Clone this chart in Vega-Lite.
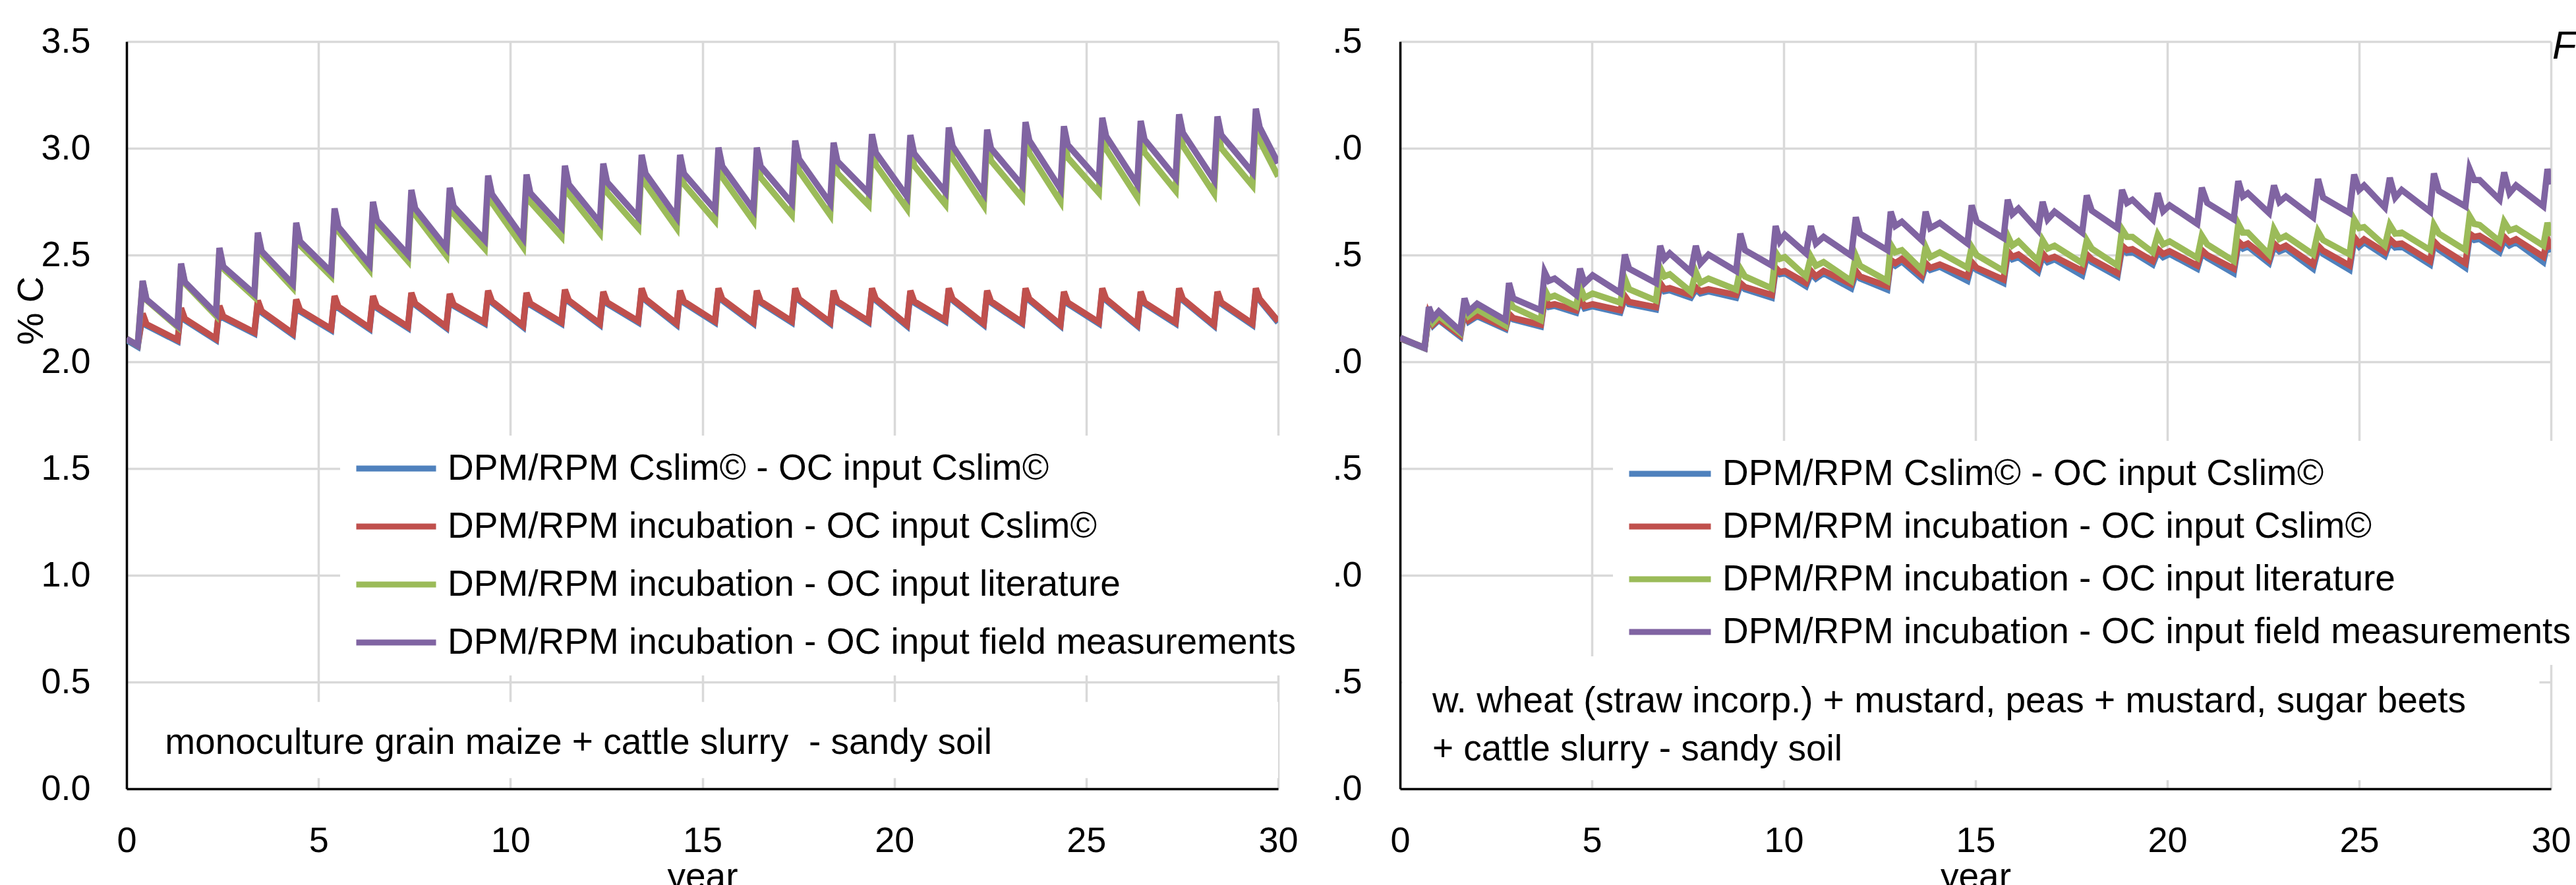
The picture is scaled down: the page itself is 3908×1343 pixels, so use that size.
{
  "$schema": "https://vega.github.io/schema/vega-lite/v6.json",
  "background": "white",
  "padding": {"left": 20, "top": 36, "right": 0, "bottom": 0},
  "spacing": 185,
  "bounds": "flush",
  "resolve": {"scale": {"color": "independent"}, "legend": {"color": "independent"}},
  "config": {
    "font": "Liberation Sans",
    "view": {"stroke": null},
    "axis": {"labelFontSize": 54, "labelColor": "#000", "labelFont": "Liberation Sans", "ticks": false, "domainColor": "#000", "domainWidth": 3.5, "gridColor": "#d9d9d9", "gridWidth": 3.5, "titleFontSize": 55, "titleFontWeight": "normal", "titleColor": "#000", "titleFont": "Liberation Sans", "labelFlush": false},
    "legend": {"labelFontSize": 55, "labelFont": "Liberation Sans", "labelColor": "#000", "labelLimit": 3000, "symbolType": "stroke", "symbolStrokeWidth": 9, "fillColor": "white", "padding": 20, "labelOffset": 13, "clipHeight": 60}
  },
  "datasets": {
    "L": [
      {"x":0,"a":2.102,"b":2.108,"c":2.108,"d":2.108},
      {"x":0.29,"a":2.071,"b":2.077,"c":2.077,"d":2.077},
      {"x":0.42,"a":2.22,"b":2.226,"c":2.376,"d":2.379},
      {"x":0.52,"a":2.17,"b":2.176,"c":2.289,"d":2.292},
      {"x":1.33,"a":2.096,"b":2.102,"c":2.163,"d":2.169},
      {"x":1.42,"a":2.245,"b":2.251,"c":2.454,"d":2.46},
      {"x":1.52,"a":2.195,"b":2.201,"c":2.367,"d":2.373},
      {"x":2.33,"a":2.102,"b":2.108,"c":2.216,"d":2.226},
      {"x":2.42,"a":2.256,"b":2.262,"c":2.523,"d":2.533},
      {"x":2.52,"a":2.206,"b":2.212,"c":2.436,"d":2.446},
      {"x":3.33,"a":2.132,"b":2.138,"c":2.303,"d":2.318},
      {"x":3.42,"a":2.281,"b":2.287,"c":2.59,"d":2.605},
      {"x":3.52,"a":2.231,"b":2.237,"c":2.503,"d":2.518},
      {"x":4.33,"a":2.127,"b":2.133,"c":2.346,"d":2.364},
      {"x":4.42,"a":2.286,"b":2.292,"c":2.633,"d":2.651},
      {"x":4.52,"a":2.236,"b":2.242,"c":2.546,"d":2.564},
      {"x":5.33,"a":2.148,"b":2.154,"c":2.4,"d":2.42},
      {"x":5.42,"a":2.302,"b":2.308,"c":2.698,"d":2.718},
      {"x":5.52,"a":2.252,"b":2.258,"c":2.611,"d":2.631},
      {"x":6.33,"a":2.153,"b":2.159,"c":2.431,"d":2.456},
      {"x":6.42,"a":2.302,"b":2.308,"c":2.724,"d":2.749},
      {"x":6.52,"a":2.252,"b":2.258,"c":2.637,"d":2.662},
      {"x":7.33,"a":2.158,"b":2.164,"c":2.472,"d":2.502},
      {"x":7.42,"a":2.317,"b":2.323,"c":2.775,"d":2.805},
      {"x":7.52,"a":2.267,"b":2.273,"c":2.688,"d":2.718},
      {"x":8.33,"a":2.158,"b":2.164,"c":2.498,"d":2.533},
      {"x":8.42,"a":2.312,"b":2.318,"c":2.78,"d":2.815},
      {"x":8.52,"a":2.262,"b":2.268,"c":2.693,"d":2.728},
      {"x":9.33,"a":2.179,"b":2.185,"c":2.53,"d":2.57},
      {"x":9.42,"a":2.327,"b":2.333,"c":2.832,"d":2.872},
      {"x":9.52,"a":2.277,"b":2.283,"c":2.745,"d":2.785},
      {"x":10.33,"a":2.163,"b":2.169,"c":2.538,"d":2.58},
      {"x":10.42,"a":2.317,"b":2.323,"c":2.835,"d":2.877},
      {"x":10.52,"a":2.267,"b":2.273,"c":2.748,"d":2.79},
      {"x":11.33,"a":2.179,"b":2.185,"c":2.586,"d":2.631},
      {"x":11.42,"a":2.332,"b":2.338,"c":2.873,"d":2.918},
      {"x":11.52,"a":2.282,"b":2.288,"c":2.786,"d":2.831},
      {"x":12.33,"a":2.173,"b":2.179,"c":2.603,"d":2.651},
      {"x":12.42,"a":2.322,"b":2.328,"c":2.88,"d":2.928},
      {"x":12.52,"a":2.272,"b":2.278,"c":2.793,"d":2.841},
      {"x":13.33,"a":2.184,"b":2.19,"c":2.627,"d":2.677},
      {"x":13.42,"a":2.338,"b":2.344,"c":2.919,"d":2.969},
      {"x":13.52,"a":2.288,"b":2.294,"c":2.832,"d":2.882},
      {"x":14.33,"a":2.173,"b":2.179,"c":2.627,"d":2.677},
      {"x":14.42,"a":2.327,"b":2.333,"c":2.919,"d":2.969},
      {"x":14.52,"a":2.277,"b":2.283,"c":2.832,"d":2.882},
      {"x":15.33,"a":2.184,"b":2.19,"c":2.661,"d":2.713},
      {"x":15.42,"a":2.338,"b":2.344,"c":2.951,"d":3.003},
      {"x":15.52,"a":2.288,"b":2.294,"c":2.864,"d":2.916},
      {"x":16.33,"a":2.179,"b":2.185,"c":2.66,"d":2.713},
      {"x":16.42,"a":2.327,"b":2.333,"c":2.95,"d":3.003},
      {"x":16.52,"a":2.277,"b":2.283,"c":2.863,"d":2.916},
      {"x":17.33,"a":2.184,"b":2.19,"c":2.688,"d":2.743},
      {"x":17.42,"a":2.338,"b":2.344,"c":2.981,"d":3.036},
      {"x":17.52,"a":2.288,"b":2.294,"c":2.894,"d":2.949},
      {"x":18.33,"a":2.179,"b":2.185,"c":2.687,"d":2.743},
      {"x":18.42,"a":2.327,"b":2.333,"c":2.97,"d":3.026},
      {"x":18.52,"a":2.277,"b":2.283,"c":2.883,"d":2.939},
      {"x":19.33,"a":2.184,"b":2.19,"c":2.733,"d":2.79},
      {"x":19.42,"a":2.338,"b":2.344,"c":3.009,"d":3.066},
      {"x":19.52,"a":2.288,"b":2.294,"c":2.922,"d":2.979},
      {"x":20.33,"a":2.168,"b":2.174,"c":2.718,"d":2.775},
      {"x":20.42,"a":2.327,"b":2.333,"c":3.005,"d":3.062},
      {"x":20.52,"a":2.277,"b":2.283,"c":2.918,"d":2.975},
      {"x":21.33,"a":2.189,"b":2.195,"c":2.737,"d":2.795},
      {"x":21.42,"a":2.338,"b":2.344,"c":3.039,"d":3.097},
      {"x":21.52,"a":2.288,"b":2.294,"c":2.952,"d":3.01},
      {"x":22.33,"a":2.173,"b":2.179,"c":2.732,"d":2.79},
      {"x":22.42,"a":2.327,"b":2.333,"c":3.029,"d":3.087},
      {"x":22.52,"a":2.277,"b":2.283,"c":2.942,"d":3.0},
      {"x":23.33,"a":2.179,"b":2.185,"c":2.767,"d":2.826},
      {"x":23.42,"a":2.338,"b":2.344,"c":3.064,"d":3.123},
      {"x":23.52,"a":2.288,"b":2.294,"c":2.977,"d":3.036},
      {"x":24.33,"a":2.168,"b":2.174,"c":2.75,"d":2.81},
      {"x":24.42,"a":2.322,"b":2.328,"c":3.043,"d":3.103},
      {"x":24.52,"a":2.272,"b":2.278,"c":2.956,"d":3.016},
      {"x":25.33,"a":2.179,"b":2.185,"c":2.791,"d":2.851},
      {"x":25.42,"a":2.338,"b":2.344,"c":3.083,"d":3.143},
      {"x":25.52,"a":2.288,"b":2.294,"c":2.996,"d":3.056},
      {"x":26.33,"a":2.168,"b":2.174,"c":2.771,"d":2.831},
      {"x":26.42,"a":2.322,"b":2.328,"c":3.068,"d":3.128},
      {"x":26.52,"a":2.272,"b":2.278,"c":2.981,"d":3.041},
      {"x":27.33,"a":2.179,"b":2.185,"c":2.801,"d":2.862},
      {"x":27.42,"a":2.338,"b":2.344,"c":3.098,"d":3.159},
      {"x":27.52,"a":2.288,"b":2.294,"c":3.011,"d":3.072},
      {"x":28.33,"a":2.168,"b":2.174,"c":2.789,"d":2.851},
      {"x":28.42,"a":2.322,"b":2.328,"c":3.087,"d":3.149},
      {"x":28.52,"a":2.272,"b":2.278,"c":3.0,"d":3.062},
      {"x":29.33,"a":2.173,"b":2.179,"c":2.825,"d":2.887},
      {"x":29.42,"a":2.338,"b":2.344,"c":3.123,"d":3.185},
      {"x":29.52,"a":2.288,"b":2.294,"c":3.036,"d":3.098},
      {"x":30,"a":2.184,"b":2.19,"c":2.868,"d":2.93}
    ],
    "R": [
      {"x":0,"a":2.109,"b":2.111,"c":2.113,"d":2.113},
      {"x":0.35,"a":2.084,"b":2.086,"c":2.087,"d":2.087},
      {"x":0.64,"a":2.063,"b":2.065,"c":2.066,"d":2.066},
      {"x":0.75,"a":2.215,"b":2.22,"c":2.235,"d":2.256},
      {"x":0.86,"a":2.17,"b":2.175,"c":2.185,"d":2.205},
      {"x":1.01,"a":2.195,"b":2.2,"c":2.215,"d":2.236},
      {"x":1.57,"a":2.118,"b":2.125,"c":2.135,"d":2.144},
      {"x":1.68,"a":2.24,"b":2.245,"c":2.27,"d":2.297},
      {"x":1.79,"a":2.188,"b":2.195,"c":2.215,"d":2.236},
      {"x":2.01,"a":2.213,"b":2.22,"c":2.245,"d":2.272},
      {"x":2.75,"a":2.153,"b":2.16,"c":2.17,"d":2.195},
      {"x":2.84,"a":2.218,"b":2.225,"c":2.29,"d":2.369},
      {"x":2.95,"a":2.198,"b":2.205,"c":2.255,"d":2.297},
      {"x":3.67,"a":2.165,"b":2.174,"c":2.195,"d":2.241},
      {"x":3.77,"a":2.29,"b":2.297,"c":2.338,"d":2.42},
      {"x":3.88,"a":2.257,"b":2.265,"c":2.3,"d":2.379},
      {"x":4.03,"a":2.262,"b":2.27,"c":2.31,"d":2.39},
      {"x":4.59,"a":2.23,"b":2.241,"c":2.26,"d":2.313},
      {"x":4.69,"a":2.29,"b":2.297,"c":2.354,"d":2.436},
      {"x":4.81,"a":2.25,"b":2.26,"c":2.3,"d":2.369},
      {"x":5.02,"a":2.26,"b":2.27,"c":2.32,"d":2.405},
      {"x":5.74,"a":2.23,"b":2.241,"c":2.277,"d":2.323},
      {"x":5.86,"a":2.3,"b":2.308,"c":2.39,"d":2.502},
      {"x":5.97,"a":2.27,"b":2.28,"c":2.34,"d":2.436},
      {"x":6.67,"a":2.245,"b":2.256,"c":2.287,"d":2.369},
      {"x":6.78,"a":2.36,"b":2.369,"c":2.441,"d":2.543},
      {"x":6.89,"a":2.33,"b":2.34,"c":2.4,"d":2.482},
      {"x":7.03,"a":2.335,"b":2.345,"c":2.41,"d":2.508},
      {"x":7.58,"a":2.3,"b":2.313,"c":2.328,"d":2.421},
      {"x":7.71,"a":2.34,"b":2.349,"c":2.421,"d":2.543},
      {"x":7.83,"a":2.32,"b":2.33,"c":2.37,"d":2.461},
      {"x":8.04,"a":2.33,"b":2.34,"c":2.39,"d":2.502},
      {"x":8.76,"a":2.3,"b":2.313,"c":2.338,"d":2.425},
      {"x":8.87,"a":2.36,"b":2.369,"c":2.436,"d":2.6},
      {"x":8.99,"a":2.34,"b":2.35,"c":2.4,"d":2.523},
      {"x":9.69,"a":2.3,"b":2.313,"c":2.344,"d":2.451},
      {"x":9.79,"a":2.43,"b":2.441,"c":2.513,"d":2.636},
      {"x":9.9,"a":2.41,"b":2.42,"c":2.482,"d":2.564},
      {"x":10.03,"a":2.415,"b":2.425,"c":2.49,"d":2.595},
      {"x":10.58,"a":2.354,"b":2.369,"c":2.4,"d":2.508},
      {"x":10.71,"a":2.415,"b":2.426,"c":2.492,"d":2.636},
      {"x":10.84,"a":2.39,"b":2.4,"c":2.45,"d":2.554},
      {"x":11.04,"a":2.415,"b":2.426,"c":2.467,"d":2.585},
      {"x":11.76,"a":2.344,"b":2.364,"c":2.379,"d":2.497},
      {"x":11.88,"a":2.415,"b":2.426,"c":2.497,"d":2.677},
      {"x":11.99,"a":2.39,"b":2.4,"c":2.45,"d":2.6},
      {"x":12.7,"a":2.338,"b":2.354,"c":2.379,"d":2.523},
      {"x":12.79,"a":2.467,"b":2.477,"c":2.549,"d":2.703},
      {"x":12.91,"a":2.45,"b":2.462,"c":2.513,"d":2.636},
      {"x":13.08,"a":2.47,"b":2.482,"c":2.523,"d":2.656},
      {"x":13.6,"a":2.39,"b":2.405,"c":2.431,"d":2.569},
      {"x":13.7,"a":2.45,"b":2.462,"c":2.538,"d":2.703},
      {"x":13.82,"a":2.43,"b":2.44,"c":2.49,"d":2.626},
      {"x":14.07,"a":2.445,"b":2.456,"c":2.513,"d":2.651},
      {"x":14.79,"a":2.379,"b":2.4,"c":2.441,"d":2.554},
      {"x":14.9,"a":2.455,"b":2.467,"c":2.538,"d":2.733},
      {"x":15.03,"a":2.43,"b":2.44,"c":2.5,"d":2.656},
      {"x":15.73,"a":2.369,"b":2.385,"c":2.426,"d":2.579},
      {"x":15.84,"a":2.505,"b":2.518,"c":2.59,"d":2.759},
      {"x":15.96,"a":2.48,"b":2.492,"c":2.544,"d":2.692},
      {"x":16.12,"a":2.49,"b":2.503,"c":2.564,"d":2.718},
      {"x":16.63,"a":2.421,"b":2.436,"c":2.472,"d":2.615},
      {"x":16.75,"a":2.495,"b":2.508,"c":2.569,"d":2.749},
      {"x":16.88,"a":2.467,"b":2.48,"c":2.53,"d":2.667},
      {"x":17.06,"a":2.48,"b":2.492,"c":2.544,"d":2.703},
      {"x":17.78,"a":2.405,"b":2.426,"c":2.462,"d":2.605},
      {"x":17.9,"a":2.49,"b":2.503,"c":2.569,"d":2.779},
      {"x":18.03,"a":2.467,"b":2.48,"c":2.53,"d":2.708},
      {"x":18.7,"a":2.4,"b":2.415,"c":2.451,"d":2.626},
      {"x":18.82,"a":2.53,"b":2.544,"c":2.621,"d":2.805},
      {"x":18.95,"a":2.51,"b":2.523,"c":2.585,"d":2.744},
      {"x":19.09,"a":2.515,"b":2.528,"c":2.585,"d":2.759},
      {"x":19.62,"a":2.456,"b":2.472,"c":2.513,"d":2.667},
      {"x":19.75,"a":2.515,"b":2.528,"c":2.595,"d":2.79},
      {"x":19.89,"a":2.49,"b":2.505,"c":2.55,"d":2.705},
      {"x":20.06,"a":2.505,"b":2.518,"c":2.564,"d":2.733},
      {"x":20.78,"a":2.436,"b":2.451,"c":2.487,"d":2.646},
      {"x":20.9,"a":2.51,"b":2.523,"c":2.59,"d":2.815},
      {"x":21.04,"a":2.487,"b":2.5,"c":2.55,"d":2.744},
      {"x":21.73,"a":2.415,"b":2.436,"c":2.472,"d":2.667},
      {"x":21.85,"a":2.55,"b":2.564,"c":2.646,"d":2.846},
      {"x":21.97,"a":2.53,"b":2.544,"c":2.605,"d":2.774},
      {"x":22.1,"a":2.54,"b":2.554,"c":2.605,"d":2.79},
      {"x":22.65,"a":2.462,"b":2.477,"c":2.503,"d":2.697},
      {"x":22.78,"a":2.54,"b":2.554,"c":2.621,"d":2.826},
      {"x":22.92,"a":2.517,"b":2.53,"c":2.575,"d":2.749},
      {"x":23.09,"a":2.53,"b":2.544,"c":2.59,"d":2.774},
      {"x":23.8,"a":2.436,"b":2.456,"c":2.503,"d":2.677},
      {"x":23.93,"a":2.53,"b":2.544,"c":2.61,"d":2.856},
      {"x":24.06,"a":2.505,"b":2.52,"c":2.57,"d":2.769},
      {"x":24.75,"a":2.431,"b":2.451,"c":2.503,"d":2.697},
      {"x":24.87,"a":2.57,"b":2.585,"c":2.667,"d":2.877},
      {"x":25.0,"a":2.54,"b":2.554,"c":2.626,"d":2.805},
      {"x":25.13,"a":2.56,"b":2.574,"c":2.631,"d":2.826},
      {"x":25.67,"a":2.497,"b":2.513,"c":2.544,"d":2.723},
      {"x":25.8,"a":2.56,"b":2.574,"c":2.641,"d":2.862},
      {"x":25.94,"a":2.535,"b":2.55,"c":2.6,"d":2.769},
      {"x":26.11,"a":2.54,"b":2.554,"c":2.605,"d":2.805},
      {"x":26.85,"a":2.456,"b":2.472,"c":2.523,"d":2.703},
      {"x":26.95,"a":2.55,"b":2.564,"c":2.641,"d":2.882},
      {"x":27.08,"a":2.525,"b":2.54,"c":2.6,"d":2.8},
      {"x":27.77,"a":2.441,"b":2.462,"c":2.523,"d":2.728},
      {"x":27.88,"a":2.585,"b":2.6,"c":2.682,"d":2.903},
      {"x":28.0,"a":2.57,"b":2.585,"c":2.646,"d":2.851},
      {"x":28.14,"a":2.575,"b":2.59,"c":2.641,"d":2.851},
      {"x":28.66,"a":2.513,"b":2.533,"c":2.564,"d":2.759},
      {"x":28.78,"a":2.57,"b":2.585,"c":2.656,"d":2.887},
      {"x":28.92,"a":2.545,"b":2.56,"c":2.615,"d":2.79},
      {"x":29.09,"a":2.56,"b":2.574,"c":2.626,"d":2.826},
      {"x":29.8,"a":2.467,"b":2.492,"c":2.544,"d":2.728},
      {"x":29.91,"a":2.56,"b":2.574,"c":2.651,"d":2.903},
      {"x":30,"a":2.513,"b":2.528,"c":2.59,"d":2.831}
    ]
  },
  "hconcat": [
    {
      "width": 1747,
      "height": 1134,
      "layer": [
        {
          "data": {"name": "L"},
          "transform": [{"fold": ["a", "b", "c", "d"], "as": ["s", "v"]}],
          "mark": {"type": "line", "strokeWidth": 9.5, "clip": true},
          "encoding": {
            "x": {"field": "x", "type": "quantitative", "scale": {"domain": [0, 30], "nice": false},
              "axis": {"values": [0, 5, 10, 15, 20, 25, 30], "format": "d", "labelPadding": 52, "title": "year", "titleY": 150, "titleBaseline": "alphabetic"}},
            "y": {"field": "v", "type": "quantitative", "scale": {"domain": [0, 3.5], "nice": false, "zero": false},
              "axis": {"values": [0, 0.5, 1, 1.5, 2, 2.5, 3, 3.5], "format": ".1f", "labelPadding": 55, "title": "% C", "titleAngle": 270, "titleX": -128, "titleY": 408, "titleAlign": "center", "titleBaseline": "alphabetic"}},
            "color": {"field": "s", "type": "nominal",
              "scale": {"domain": ["a", "b", "c", "d"], "range": ["#4f81bd", "#c0504d", "#9bbb59", "#8064a2"]},
              "legend": {"title": null, "orient": "none", "legendX": 324, "legendY": 598, "symbolSize": 14641, "rowPadding": 28,
                "labelExpr": "{'a': 'DPM/RPM Cslim© - OC input Cslim©', 'b': 'DPM/RPM incubation - OC input Cslim©', 'c': 'DPM/RPM incubation - OC input literature', 'd': 'DPM/RPM incubation - OC input field measurements'}[datum.label]"}}
          }
        },
        {
          "data": {"values": [{}]},
          "mark": {"type": "rect", "color": "white"},
          "encoding": {"x": {"datum": 0.06}, "x2": {"datum": 30}, "y": {"datum": 0.05}, "y2": {"datum": 0.407}}
        },
        {
          "data": {"values": [{}]},
          "mark": {"type": "text", "text": "monoculture grain maize + cattle slurry \u00a0- sandy soil", "align": "left", "baseline": "alphabetic", "fontSize": 55, "font": "Liberation Sans", "color": "#000"},
          "encoding": {"x": {"datum": 1.0}, "y": {"datum": 0.164}}
        }
      ]
    },
    {
      "width": 1746,
      "height": 1134,
      "layer": [
        {
          "data": {"name": "R"},
          "transform": [{"fold": ["a", "b", "c", "d"], "as": ["s", "v"]}],
          "mark": {"type": "line", "strokeWidth": 9.5, "clip": true},
          "encoding": {
            "x": {"field": "x", "type": "quantitative", "scale": {"domain": [0, 30], "nice": false},
              "axis": {"values": [0, 5, 10, 15, 20, 25, 30], "format": "d", "labelPadding": 52, "title": "year", "titleY": 150, "titleBaseline": "alphabetic"}},
            "y": {"field": "v", "type": "quantitative", "scale": {"domain": [0, 3.5], "nice": false, "zero": false},
              "axis": {"values": [0, 0.5, 1, 1.5, 2, 2.5, 3, 3.5], "format": ".1f", "labelPadding": 58, "title": null, "labelExpr": "substring(datum.label, 1)"}},
            "color": {"field": "s", "type": "nominal",
              "scale": {"domain": ["a", "b", "c", "d"], "range": ["#4f81bd", "#c0504d", "#9bbb59", "#8064a2"]},
              "legend": {"title": null, "orient": "none", "legendX": 323, "legendY": 606, "symbolSize": 15376, "rowPadding": 20,
                "labelExpr": "{'a': 'DPM/RPM Cslim© - OC input Cslim©', 'b': 'DPM/RPM incubation - OC input Cslim©', 'c': 'DPM/RPM incubation - OC input literature', 'd': 'DPM/RPM incubation - OC input field measurements'}[datum.label]"}}
          }
        },
        {
          "data": {"values": [{}]},
          "mark": {"type": "rect", "color": "white"},
          "encoding": {"x": {"datum": 0.06}, "x2": {"datum": 29.7}, "y": {"datum": 0.04}, "y2": {"datum": 0.62}}
        },
        {
          "data": {"values": [{}]},
          "mark": {"type": "text", "text": ["w. wheat (straw incorp.) + mustard, peas + mustard, sugar beets", "+ cattle slurry - sandy soil"], "lineHeight": 73, "align": "left", "baseline": "alphabetic", "fontSize": 55, "font": "Liberation Sans", "color": "#000"},
          "encoding": {"x": {"datum": 0.84}, "y": {"datum": 0.358}}
        },
        {
          "data": {"values": [{}]},
          "mark": {"type": "text", "text": "F", "align": "left", "baseline": "alphabetic", "fontSize": 60, "fontStyle": "italic", "font": "Liberation Sans", "color": "#000", "dx": 2},
          "encoding": {"x": {"datum": 30}, "y": {"datum": 3.42}}
        }
      ]
    }
  ]
}
